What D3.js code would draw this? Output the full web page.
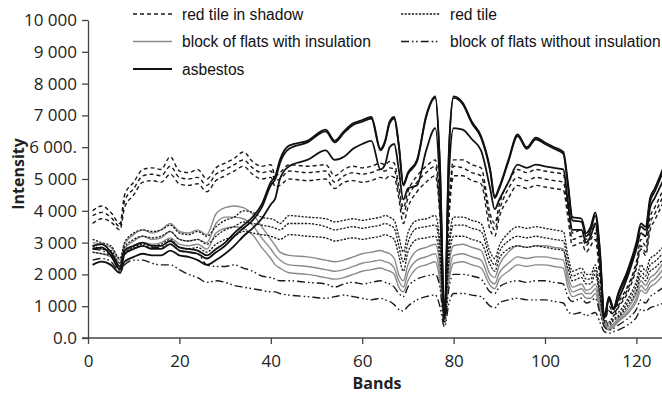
<!DOCTYPE html>
<html><head><meta charset="utf-8">
<script src="https://cdn.jsdelivr.net/npm/d3@7"></script>
<style>
html,body{margin:0;padding:0;background:#fff;overflow:hidden}
svg{display:block}
</style></head>
<body>
<svg id="c" width="662" height="394"></svg>
<script>
const bands = [1,3,5,7,8,10,12,14,16,18,
  20,22,24,26,28,30,32,34,36,38,
  40,41,42,44,48,52,54,56,58,60,
  62,64,65,66,67,68,69,70,72,74,
  76,77,78,79,80,82,84,86,88,89,
  90,92,94,96,98,100,102,104,105,106,
  108,109,110,111,112,113,114,115,116,118,
  120,121,122,123,124,126];

const asbestos1 = [2900,2950,2700,2250,2750,2900,3000,2900,2900,3050,
  2850,2800,2750,2600,2800,3000,3300,3550,3800,4200,
  4900,5100,5600,6050,6200,6550,6200,6500,6750,6850,
  6950,5950,6200,6800,6950,6100,4850,5200,5600,7000,
  7600,5500,700,6000,7600,7400,6800,6350,5300,4450,
  4750,5600,6400,6000,6300,6150,6000,5850,4900,3800,
  3750,3300,3500,3950,2800,700,1300,950,1400,2100,
  3000,3600,3500,4400,4700,5400];
const asbestos2 = [2800,2850,2600,2150,2650,2800,2900,2800,2800,2950,
  2750,2700,2650,2500,2700,2900,3200,3450,3700,4100,
  4800,5000,5500,5950,6150,6500,6150,6450,6700,6800,
  6900,5900,6150,6750,6900,6050,4800,5150,5550,6950,
  7550,5400,650,5900,7550,7350,6750,6300,5250,4400,
  4700,5550,6350,5950,6250,6100,5950,5800,4800,3700,
  3650,3200,3400,3850,2700,650,1250,900,1350,2000,
  2900,3500,3400,4300,4600,5300];
const asbestos3 = [2300,2400,2300,2050,2400,2550,2650,2600,2600,2750,
  2600,2550,2450,2300,2450,2650,2900,3200,3450,3750,
  4200,4400,5000,5400,5600,5900,5600,5700,5950,6100,
  6200,5300,5450,6000,6100,5300,4350,4700,4800,5900,
  6600,4800,600,5200,6600,6550,6250,5900,4700,4050,
  4350,4900,5450,5350,5450,5400,5350,5300,4300,3400,
  3400,3000,3200,3600,2500,650,1200,900,1200,1900,
  2800,3300,3200,4100,4400,5000];

const shadow1 = [4000,4150,3950,3600,4500,4900,5300,5350,5300,5700,
  5250,5200,5300,5000,5350,5500,5650,5850,5550,5400,
  5450,5100,5200,5450,5400,5450,5100,5300,5400,5350,
  5400,5500,5450,5550,5500,4800,4100,4600,5100,5400,
  5600,4200,900,4200,5600,5600,5450,5350,3900,3600,
  4200,4900,5300,5200,5300,5250,5200,5150,4200,3300,
  3400,3100,3300,3500,2300,700,1000,800,1100,1600,
  2400,3100,2900,3800,4100,4700];
const shadow2 = [3850,3950,3800,3500,4300,4700,5100,5150,5100,5400,
  5050,5000,5050,4800,5150,5300,5450,5600,5350,5200,
  5250,4950,5000,5250,5200,5250,4900,5100,5200,5150,
  5200,5300,5250,5350,5300,4600,3900,4400,4900,5200,
  5400,4000,850,4000,5400,5350,5200,5100,3700,3400,
  4000,4700,5050,4950,5050,5000,4950,4900,4000,3100,
  3200,2900,3100,3300,2100,650,900,750,1000,1500,
  2300,2900,2700,3600,3900,4500];
const shadow3 = [3600,3750,3650,3400,4100,4500,4900,4950,4900,5150,
  4850,4800,4850,4600,4950,5100,5250,5400,5150,5000,
  5050,4750,4800,5000,4950,5000,4700,4900,4950,4900,
  4950,5050,5000,5100,5050,4400,3600,4100,4600,4900,
  5100,3800,800,3800,5100,5100,4950,4850,3400,3200,
  3800,4400,4800,4700,4800,4750,4700,4650,3800,2900,
  3000,2700,2900,3100,1900,600,850,700,950,1400,
  2200,2800,2600,3400,3700,4300];

const redTile1 = [3100,3000,2900,2500,3000,3300,3400,3350,3400,3550,
  3300,3250,3350,3200,3500,3700,3800,4000,3950,3800,
  3750,3700,3600,3850,3800,3750,3650,3700,3750,3700,
  3750,3800,3850,3800,3700,3200,2700,3300,3700,3750,
  3850,3000,800,3000,3800,3800,3700,3600,2700,2500,
  2900,3300,3500,3450,3500,3450,3400,3350,2600,2100,
  2200,2000,2000,2300,1500,600,500,700,800,1200,
  1800,2300,2100,2500,2600,2900];
const redTile2 = [2900,2800,2750,2350,2850,3100,3200,3150,3200,3350,
  3100,3050,3100,2950,3200,3400,3500,3650,3600,3550,
  3500,3450,3400,3600,3600,3500,3400,3450,3500,3450,
  3500,3550,3600,3550,3450,2900,2400,3000,3450,3500,
  3550,2800,700,2800,3550,3550,3450,3350,2500,2300,
  2700,3050,3200,3150,3200,3150,3100,3050,2400,1950,
  2050,1850,1850,2150,1400,550,450,600,700,1100,
  1650,2100,1950,2300,2400,2700];
const redTile3 = [2700,2650,2600,2250,2650,2850,2950,2900,2950,3100,
  2850,2800,2850,2700,2950,3100,3200,3350,3300,3250,
  3200,3150,3100,3250,3200,3150,3050,3100,3150,3100,
  3150,3200,3250,3200,3100,2600,2100,2700,3100,3150,
  3200,2500,650,2500,3200,3200,3100,3000,2300,2100,
  2500,2800,2900,2850,2900,2850,2800,2750,2200,1800,
  1900,1700,1700,2000,1300,500,400,550,650,1000,
  1500,1950,1800,2100,2200,2500];

const insulated1 = [3000,2950,2850,2450,2950,3250,3400,3300,3400,3600,
  3350,3300,3400,3250,3900,4100,4150,4100,3900,3500,
  3100,2900,2700,2600,2550,2450,2400,2450,2550,2650,
  2700,2750,2700,2650,2500,2000,1800,2300,2750,2850,
  2950,2300,600,2300,2900,2950,2850,2750,2000,1900,
  2300,2700,2900,2850,2900,2900,2850,2800,2000,1600,
  1700,1500,1550,1700,1100,450,350,450,600,900,
  1400,1800,1650,1900,2000,2400];
const insulated2 = [2850,2800,2700,2350,2800,3050,3200,3100,3150,3350,
  3100,3050,3100,3000,3600,3800,3800,3750,3550,3150,
  2800,2600,2450,2300,2250,2150,2100,2150,2250,2350,
  2400,2450,2400,2350,2200,1800,1600,2050,2450,2550,
  2650,2000,550,2000,2600,2650,2550,2450,1800,1700,
  2050,2350,2550,2500,2550,2550,2500,2450,1800,1450,
  1550,1400,1400,1550,1000,400,300,400,550,800,
  1250,1650,1500,1750,1850,2200];
const insulated3 = [2700,2650,2550,2200,2650,2900,3000,2950,3000,3150,
  2950,2900,2950,2800,3300,3450,3500,3450,3250,2850,
  2500,2300,2200,2050,2000,1900,1850,1900,2000,2100,
  2150,2200,2150,2100,2000,1600,1450,1800,2200,2300,
  2400,1800,500,1800,2350,2400,2300,2200,1650,1550,
  1850,2100,2300,2250,2300,2300,2250,2200,1600,1300,
  1400,1250,1250,1400,900,350,250,350,500,750,
  1150,1500,1400,1600,1700,2000];

const noInsulation1 = [2800,2750,2600,2200,2600,2800,2900,2850,2850,2950,
  2750,2700,2650,2300,2250,2250,2300,2200,2100,1950,
  1900,1850,1800,1800,1750,1700,1600,1700,1750,1700,
  1750,1800,1750,1700,1600,1400,1300,1600,1850,1950,
  2000,1600,450,1600,2000,2000,1950,1850,1450,1400,
  1600,1750,1800,1750,1800,1800,1750,1700,1300,1150,
  1250,1100,1150,1250,800,350,250,300,400,600,
  900,1200,1100,1300,1400,1600];
const noInsulation2 = [2450,2500,2400,2100,2300,2450,2450,2350,2300,2300,
  2150,2000,1900,1750,1800,1750,1650,1600,1550,1500,
  1450,1450,1400,1350,1300,1250,1300,1350,1300,1250,
  1200,1250,1200,1150,1050,900,850,1000,1200,1300,
  1350,1000,350,1100,1400,1400,1350,1300,1000,950,
  1100,1200,1250,1200,1200,1200,1150,1100,850,750,
  800,700,750,800,500,200,150,200,250,400,
  650,900,850,950,1000,1100];

const yTickValues = [0,1000,2000,3000,4000,5000,6000,7000,8000,9000,10000];
const yTickLabels = ["0.0","1 000","2 000","3 000","4 000","5 000","6 000.","7 000","8 000","9 000","10 000"];
const xTickValues = [0,20,40,60,80,100,120];
const legendNames = ["red tile in shadow","red tile","block of flats with insulation","block of flats without insulation","asbestos"];

// ---- styles ----
const styles = {
  shadow:    {stroke:"#1a1a1a", width:1.4, dash:"4,3"},
  red:       {stroke:"#1a1a1a", width:1.3, dash:"2.2,1.4"},
  insulated: {stroke:"#8a8a8a", width:1.4, dash:null},
  noins:     {stroke:"#1a1a1a", width:1.4, dash:"8,3,1.6,2.5,1.6,3"},
  asbestos:  {stroke:"#111",    width:1.8, dash:null}
};
const series = [
  {v:insulated1,s:"insulated"},{v:insulated2,s:"insulated"},{v:insulated3,s:"insulated"},
  {v:noInsulation1,s:"noins"},{v:noInsulation2,s:"noins"},
  {v:redTile1,s:"red"},{v:redTile2,s:"red"},{v:redTile3,s:"red"},
  {v:shadow1,s:"shadow"},{v:shadow2,s:"shadow"},{v:shadow3,s:"shadow"},
  {v:asbestos1,s:"asbestos"},{v:asbestos2,s:"asbestos"},{v:asbestos3,s:"asbestos"}
];

const svg = d3.select("#c");
const x = d3.scaleLinear().domain([0,125.6]).range([88,662]);
const y = d3.scaleLinear().domain([0,10000]).range([338,20]);

const line = d3.line().x((d,i)=>x(bands[i])).y(d=>y(d)).curve(d3.curveMonotoneX);
const g = svg.append("g");
series.forEach(sr=>{
  const st = styles[sr.s];
  g.append("path").attr("d",line(sr.v)).attr("fill","none")
   .attr("stroke",st.stroke).attr("stroke-width",st.width)
   .attr("stroke-dasharray",st.dash).attr("stroke-linejoin","round");
});

// axes
const yAxis = d3.axisLeft(y).tickValues(yTickValues)
  .tickFormat((d,i)=>yTickLabels[i]).tickSize(6).tickPadding(5).tickSizeOuter(0);
const ya = svg.append("g").attr("transform","translate(88,0)").call(yAxis);
const xAxis = d3.axisBottom(x).tickValues(xTickValues).tickSize(6).tickPadding(11).tickSizeOuter(0);
const xa = svg.append("g").attr("transform","translate(0,338)").call(xAxis);
[ya,xa].forEach(a=>{
  a.selectAll("path,line").attr("stroke","#444").attr("stroke-width",1.3);
  a.selectAll("text").attr("font-family","'Open Sans', sans-serif").attr("font-size",17).attr("fill","#222");
});
xa.select(".domain").attr("d","M82,0H662");

svg.append("text").attr("x",377).attr("y",389).attr("text-anchor","middle")
  .attr("font-family","'Open Sans', sans-serif").attr("font-weight","bold").attr("font-size",16)
  .attr("fill","#222").text("Bands");
svg.append("text").attr("transform","translate(24,174) rotate(-90)").attr("text-anchor","middle")
  .attr("font-family","'Open Sans', sans-serif").attr("font-weight","bold").attr("font-size",16)
  .attr("fill","#222").text("Intensity");

// legend
const legendItems = [
  {name:legendNames[0], s:"shadow",    x:133, y:14},
  {name:legendNames[1], s:"red",       x:401, y:14},
  {name:legendNames[2], s:"insulated", x:133, y:41.5},
  {name:legendNames[3], s:"noins",     x:401, y:41.5},
  {name:legendNames[4], s:"asbestos",  x:133, y:69}
];
const lg = svg.append("g");
legendItems.forEach(it=>{
  const st = styles[it.s];
  lg.append("line").attr("x1",it.x).attr("x2",it.x+39).attr("y1",it.y).attr("y2",it.y)
    .attr("stroke",st.stroke).attr("stroke-width",st.width).attr("stroke-dasharray",st.dash);
  lg.append("text").attr("x",it.x+49).attr("y",it.y+5.5)
    .attr("font-family","'Liberation Sans', Arial, sans-serif").attr("font-size",15.6)
    .attr("fill","#111").text(it.name);
});
</script>
</body></html>
